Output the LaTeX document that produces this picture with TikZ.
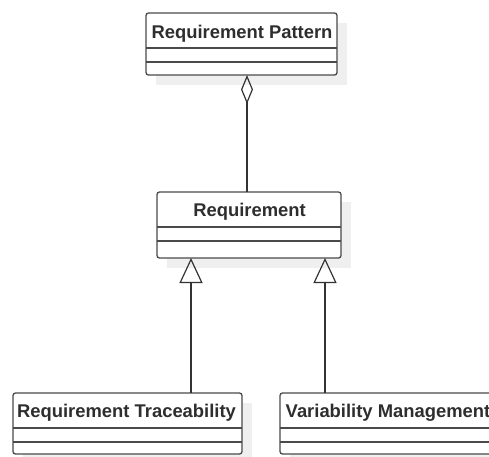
\documentclass[tikz,border=0pt]{standalone}
\usepackage{fontspec}
\setmainfont{Liberation Sans}
\usetikzlibrary{arrows.meta,calc}
\definecolor{boxgray}{HTML}{4A4A4A}
\definecolor{linegray}{HTML}{333333}
\definecolor{textgray}{HTML}{2E2E2E}
\definecolor{shadowgray}{HTML}{EFEFEF}
\begin{document}
\begin{tikzpicture}[x=1pt,y=-1pt,
  umlbox/.style={draw=boxgray, line width=1.3pt, rounded corners=2.5pt, fill=white,
    anchor=north west, inner sep=0pt, outer sep=0pt},
  boxshadow/.style={fill=shadowgray, draw=none, anchor=north west, inner sep=0pt, outer sep=0pt},
  title/.style={font=\fontsize{18.4}{21}\selectfont\bfseries, text=textgray, anchor=base, inner sep=0pt},
  divider/.style={draw=boxgray, line width=1.3pt},
  link/.style={draw=linegray, line width=1.2pt},
]
\useasboundingbox (0,0) rectangle (489,456);
\clip (0,0) rectangle (489,456);

% drop shadows
\node[boxshadow, minimum width=191pt, minimum height=62pt] (rps) at (156,23) {};
\node[boxshadow, minimum width=184pt, minimum height=66pt] (reqs) at (167,202) {};
\node[boxshadow, minimum width=229pt, minimum height=61pt] (rts) at (23,403) {};
\node[boxshadow, minimum width=216pt, minimum height=61pt] (vms) at (290,403) {};

% class boxes
\node[umlbox, minimum width=191pt, minimum height=62pt] (rp) at (146,13) {};
\node[umlbox, minimum width=184pt, minimum height=66pt] (req) at (157,192) {};
\node[umlbox, minimum width=229pt, minimum height=61pt] (rt) at (13,393) {};
\node[umlbox, minimum width=216pt, minimum height=61pt] (vm) at (280,393) {};

% compartment dividers
\foreach \b in {rp,req,rt,vm}{
  \draw[divider] ($(\b.north west)+(0,35)$) -- ($(\b.north east)+(0,35)$);
  \draw[divider] ($(\b.north west)+(0,49)$) -- ($(\b.north east)+(0,49)$);
}

% class names
\node[title] (rpt) at ($(rp.north)+(0.5,25)$) {Requirement Pattern};
\node[title] (reqt) at ($(req.north)+(0.5,24.5)$) {Requirement};
\node[title] (rtt) at ($(rt.north)+(-1,24)$) {Requirement Traceability};
\node[title] (vmt) at ($(vm.north)+(0,24)$) {Variability Management};

% connector columns
\coordinate (ax) at (247,0);
\coordinate (lx) at (191,0);
\coordinate (rx) at (325,0);

% aggregation
\draw[link, {Diamond[open, length=29pt, width=12pt]}-] (rp.south -| ax) -- (req.north -| ax);
% generalizations
\draw[link, -{Triangle[open, length=25pt, width=23pt]}] (rt.north -| lx) -- (req.south -| lx);
\draw[link, -{Triangle[open, length=25pt, width=23pt]}] (vm.north -| rx) -- (req.south -| rx);
\end{tikzpicture}
\end{document}
